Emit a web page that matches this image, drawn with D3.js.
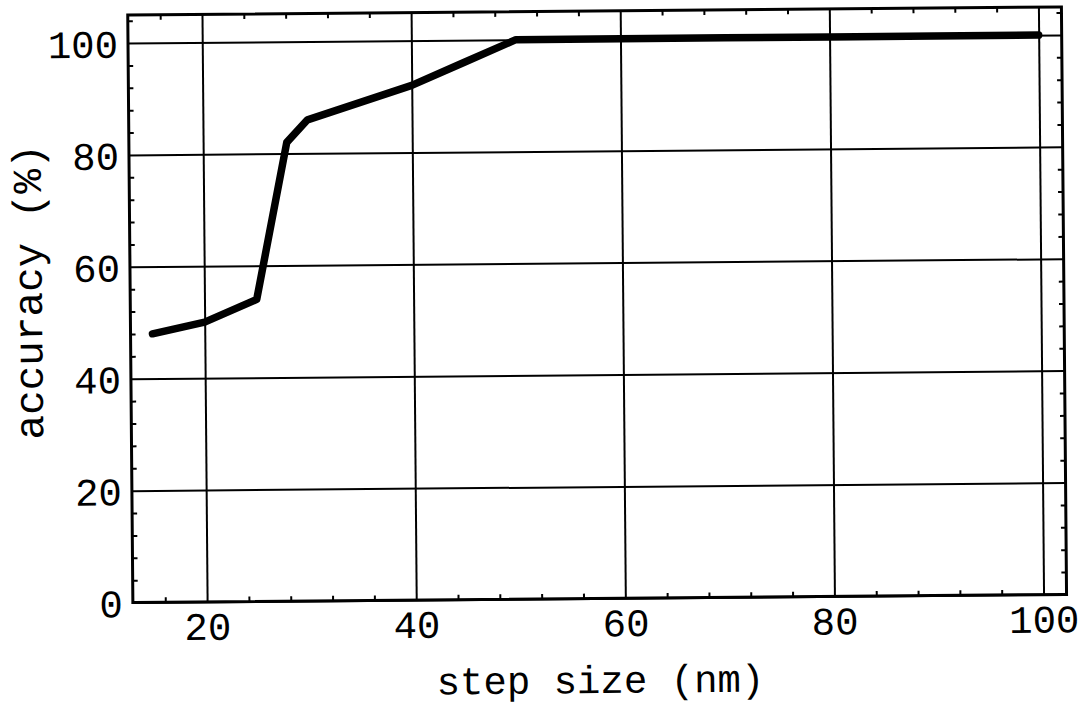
<!DOCTYPE html>
<html>
<head>
<meta charset="utf-8">
<script src="https://cdn.jsdelivr.net/npm/d3@7"></script>
<style>
  html, body { margin: 0; padding: 0; background: #fff; }
  svg { display: block; }
  text { font-family: "Liberation Mono", "Courier New", monospace; fill: #000; }
</style>
</head>
<body>
<svg id="chart" width="1084" height="713"></svg>
<script>
// Accuracy as a function of step size
const stepSize = [15, 20, 25, 28, 30, 35, 40, 45, 50, 60, 70, 80, 90, 100];
const accuracy = [48, 50, 54, 82, 86, 89, 92, 96, 100, 100, 100, 100, 100, 100];

const xTicks = [20, 40, 60, 80, 100];
const yTicks = [0, 20, 40, 60, 80, 100];
const xMinor = [16, 24, 28, 32, 36, 44, 48, 52, 56, 64, 68, 72, 76, 84, 88, 92, 96];
const yMinor = [4, 8, 12, 16, 24, 28, 32, 36, 44, 48, 52, 56, 64, 68, 72, 76, 84, 88, 92, 96, 104];

const xTitle = "step size (nm)";
const yTitle = "accuracy (%)";

const plot = { left: 130.3, right: 1064, top: 11, bottom: 598.5 };
const W = plot.right - plot.left, H = plot.bottom - plot.top;

const x = d3.scaleLinear().domain([12.9, 102.2]).range([plot.left, plot.right]);
const y = d3.scaleLinear().domain([0, 105]).range([plot.bottom, plot.top]);

const svg = d3.select("#chart");
svg.append("rect").attr("width", 1084).attr("height", 713).attr("fill", "#fff");

// the whole printed figure sits very slightly askew
const root = svg.append("g").attr("transform", "rotate(-0.5, 597, 305)");

function plain(sel, width) {
  sel.select(".domain").remove();
  sel.selectAll(".tick line").attr("stroke", "#000").attr("stroke-width", width);
}

// grid lines
root.append("g")
  .attr("transform", `translate(0,${plot.bottom})`)
  .call(d3.axisBottom(x).tickValues(xTicks).tickSize(-H).tickFormat(""))
  .call(plain, 2);
root.append("g")
  .attr("transform", `translate(${plot.left},0)`)
  .call(d3.axisLeft(y).tickValues(yTicks).tickSize(-W).tickFormat(""))
  .call(plain, 2);

// minor ticks on all four sides, pointing inward
const tk = 5;
root.append("g").attr("transform", `translate(0,${plot.bottom})`)
  .call(d3.axisBottom(x).tickValues(xMinor).tickSize(-tk).tickFormat("")).call(plain, 2);
root.append("g").attr("transform", `translate(0,${plot.top})`)
  .call(d3.axisTop(x).tickValues(xMinor).tickSize(-tk).tickFormat("")).call(plain, 2);
root.append("g").attr("transform", `translate(${plot.left},0)`)
  .call(d3.axisLeft(y).tickValues(yMinor).tickSize(-tk).tickFormat("")).call(plain, 2);
root.append("g").attr("transform", `translate(${plot.right},0)`)
  .call(d3.axisRight(y).tickValues(yMinor).tickSize(-tk).tickFormat("")).call(plain, 2);

// frame
root.append("rect")
  .attr("x", plot.left).attr("y", plot.top)
  .attr("width", W).attr("height", H)
  .attr("fill", "none").attr("stroke", "#000").attr("stroke-width", 3);

// tick labels
const xLab = root.append("g")
  .attr("transform", `translate(0,${plot.bottom})`)
  .call(d3.axisBottom(x).tickValues(xTicks).tickSize(0).tickPadding(0).tickFormat(d3.format("d")));
xLab.select(".domain").remove();
xLab.selectAll("text")
  .attr("dy", null).attr("y", 38)
  .style("font-family", '"Liberation Mono", monospace').style("font-size", "39px").attr("fill", "#000");

const yLab = root.append("g")
  .attr("transform", `translate(${plot.left},0)`)
  .call(d3.axisLeft(y).tickValues(yTicks).tickSize(0).tickPadding(0).tickFormat(d3.format("d")));
yLab.select(".domain").remove();
yLab.selectAll("text")
  .attr("x", -10).attr("dy", "0.36em")
  .style("font-family", '"Liberation Mono", monospace').style("font-size", "39px").attr("fill", "#000");

// axis titles
root.append("text")
  .attr("x", (plot.left + plot.right) / 2).attr("y", 693)
  .attr("text-anchor", "middle").style("font-size", "39px")
  .text(xTitle);
root.append("text")
  .attr("transform", `translate(42,287) rotate(-90)`)
  .attr("text-anchor", "middle").style("font-size", "41px")
  .text(yTitle);

// data curve
const pts = stepSize.map((s, i) => [s, accuracy[i]]);
root.append("path")
  .datum(pts)
  .attr("d", d3.line().x(d => x(d[0])).y(d => y(d[1])))
  .attr("fill", "none").attr("stroke", "#000")
  .attr("stroke-width", 7.5)
  .attr("stroke-linejoin", "round").attr("stroke-linecap", "round");
</script>
</body>
</html>
